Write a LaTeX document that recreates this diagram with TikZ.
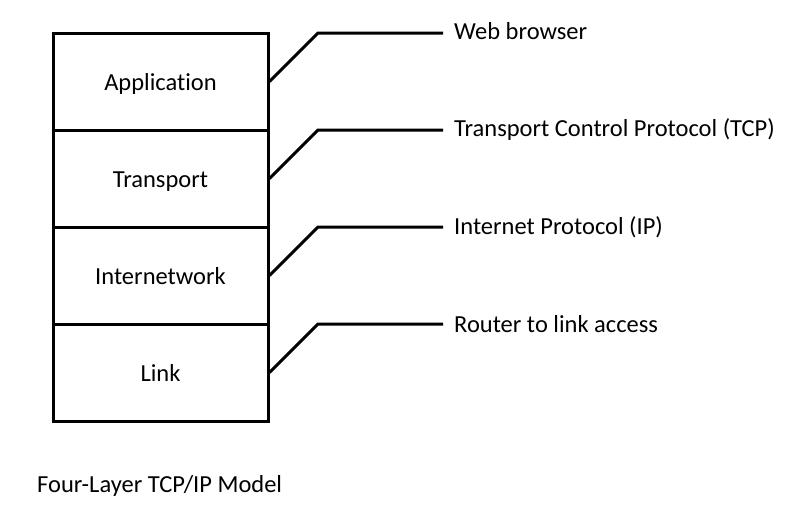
\documentclass[tikz,border=0pt]{standalone}
\usepackage{fontspec}
\setmainfont[Ligatures=NoCommon]{Carlito}
\begin{document}
\begin{tikzpicture}[x=1pt,y=-1pt,
  layer/.style={draw,line width=3pt,minimum width=215pt,minimum height=97pt,inner sep=0pt,text height=20pt,text depth=3pt,font=\fontsize{24.5}{28}\selectfont},
  lbl/.style={anchor=west,inner sep=0pt,font=\fontsize{24.5}{28}\selectfont},
  conn/.style={line width=3pt}]
\useasboundingbox (0,0) rectangle (786,507);
\node[layer] (app) at (160.5,81.5) {Application};
\node[layer] (tra) at (160.5,178.5) {Transport};
\node[layer] (int) at (160.5,275.5) {Internetwork};
\node[layer] (lnk) at (160.5,372.5) {Link};
\coordinate (a1) at (318,33); \coordinate (a2) at (443,33);
\coordinate (t1) at (318,130); \coordinate (t2) at (443,130);
\coordinate (i1) at (318,227); \coordinate (i2) at (443,227);
\coordinate (l1) at (318,324); \coordinate (l2) at (443,324);
\draw[conn] (app.east) -- (a1) -- (a2);
\draw[conn] (tra.east) -- (t1) -- (t2);
\draw[conn] (int.east) -- (i1) -- (i2);
\draw[conn] (lnk.east) -- (l1) -- (l2);
\node[lbl] (la) at (454,31) {Web browser};
\node[lbl] (lt) at (454,130) {Transport Control Protocol (TCP)};
\node[lbl] (li) at (454,227) {Internet Protocol (IP)};
\node[lbl] (ll) at (454,324) {Router to link access};
\node[lbl] (cap) at (37,486) {Four-Layer TCP/IP Model};
\end{tikzpicture}
\end{document}
